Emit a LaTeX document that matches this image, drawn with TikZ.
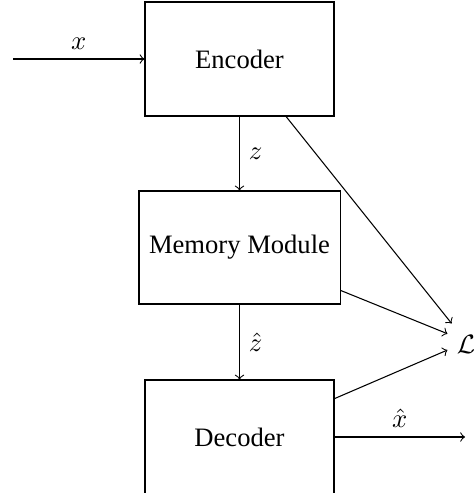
\documentclass[tikz,border=0pt]{standalone}
\usepackage{fontspec}
\setmainfont{Liberation Serif}
\begin{document}
\begin{tikzpicture}[x=0.376pt,y=-0.376pt,
  blk/.style={draw, rectangle, inner sep=0pt, minimum width=71.06pt, minimum height=42.86pt},
  wideblk/.style={blk, minimum width=75.6pt, minimum height=42.5pt},
  lossnode/.style={rectangle, inner sep=0pt, minimum width=13.54pt, minimum height=15.04pt},
  conn/.style={->}]
\useasboundingbox (0,0) rectangle (474,493);
\node[blk] (enc) at (239.5,59) {Encoder};
\node[wideblk] (mem) at (239.5,247.5) {Memory Module};
\node[blk] (dec) at (239.5,437) {Decoder};
\node[lossnode] (L) at (466,344) {$\mathcal{L}$};
\coordinate (in) at (13,59);
\coordinate (out) at (465,437);
\draw[conn] (in) -- node[midway, above] {$x$} (enc);
\draw[conn] (enc) -- node[midway, right] {$z$} (mem);
\draw[conn] (mem) -- node[midway, right] {$\hat{z}$} (dec);
\draw[conn] (dec) -- node[midway, above] {$\hat{x}$} (out);
\draw[conn] (enc.-51.4) -- (L.125);
\draw[conn] (mem.-23.4) -- (L.151);
\draw[conn] (dec.22.9) -- (L.198);
\end{tikzpicture}
\end{document}
